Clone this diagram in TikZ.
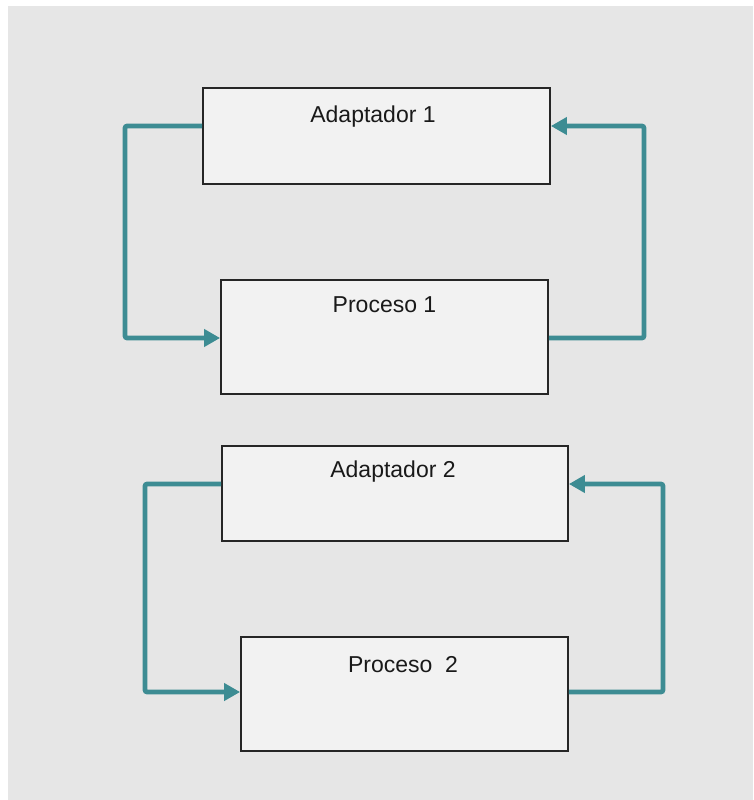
\documentclass[tikz,border=0pt]{standalone}
\usepackage{fontspec}
\setmainfont{Liberation Sans}
\usetikzlibrary{arrows.meta}
\definecolor{bgc}{HTML}{E6E6E6}
\definecolor{boxc}{HTML}{F2F2F2}
\definecolor{teal}{HTML}{3D8C93}
\begin{document}
\begin{tikzpicture}[x=1pt,y=-1pt,
  stagebox/.style={draw=black!85,line width=1.8pt,fill=boxc,inner sep=0pt},
  lbl/.style={anchor=base,inner sep=0pt,font=\fontsize{23}{27}\selectfont,text=black!90},
  flow/.style={draw=teal,line width=4.6pt,rounded corners=2pt,-{Triangle[length=16pt,width=17pt]}}]
\useasboundingbox (0,0) rectangle (753,800);
\fill[bgc] (8,6) rectangle (753,800);
% boxes
\node[stagebox,minimum width=347pt,minimum height=96pt] (a1) at (376.5,136) {};
\node[stagebox,minimum width=327pt,minimum height=114pt] (p1) at (384.5,337) {};
\node[stagebox,minimum width=346pt,minimum height=95pt] (a2) at (395,493.5) {};
\node[stagebox,minimum width=327pt,minimum height=114pt] (p2) at (404.5,694) {};
% labels
\node[lbl] (ta1) at (373,122) {Adaptador 1};
\node[lbl] (tp1) at (384.5,312) {Proceso 1};
\node[lbl] (ta2) at (393,477) {Adaptador 2};
\node[lbl] (tp2) at (403,672) {Proceso\ \ 2};
% connectors top
\coordinate (a1w) at ([yshift=10pt]a1.west);
\coordinate (a1e) at ([yshift=10pt]a1.east);
\coordinate (p1w) at ([yshift=-1pt]p1.west);
\coordinate (p1e) at ([yshift=-1pt]p1.east);
\draw[flow] (a1w) -- (125,126) -- (125,338) -- (p1w);
\draw[flow] (p1e) -- (644,338) -- (644,126) -- (a1e);
% connectors bottom
\coordinate (a2w) at ([yshift=9.5pt]a2.west);
\coordinate (a2e) at ([yshift=9.5pt]a2.east);
\coordinate (p2w) at ([yshift=2pt]p2.west);
\coordinate (p2e) at ([yshift=2pt]p2.east);
\draw[flow] (a2w) -- (145,484) -- (145,692) -- (p2w);
\draw[flow] (p2e) -- (663,692) -- (663,484) -- (a2e);
\end{tikzpicture}
\end{document}
